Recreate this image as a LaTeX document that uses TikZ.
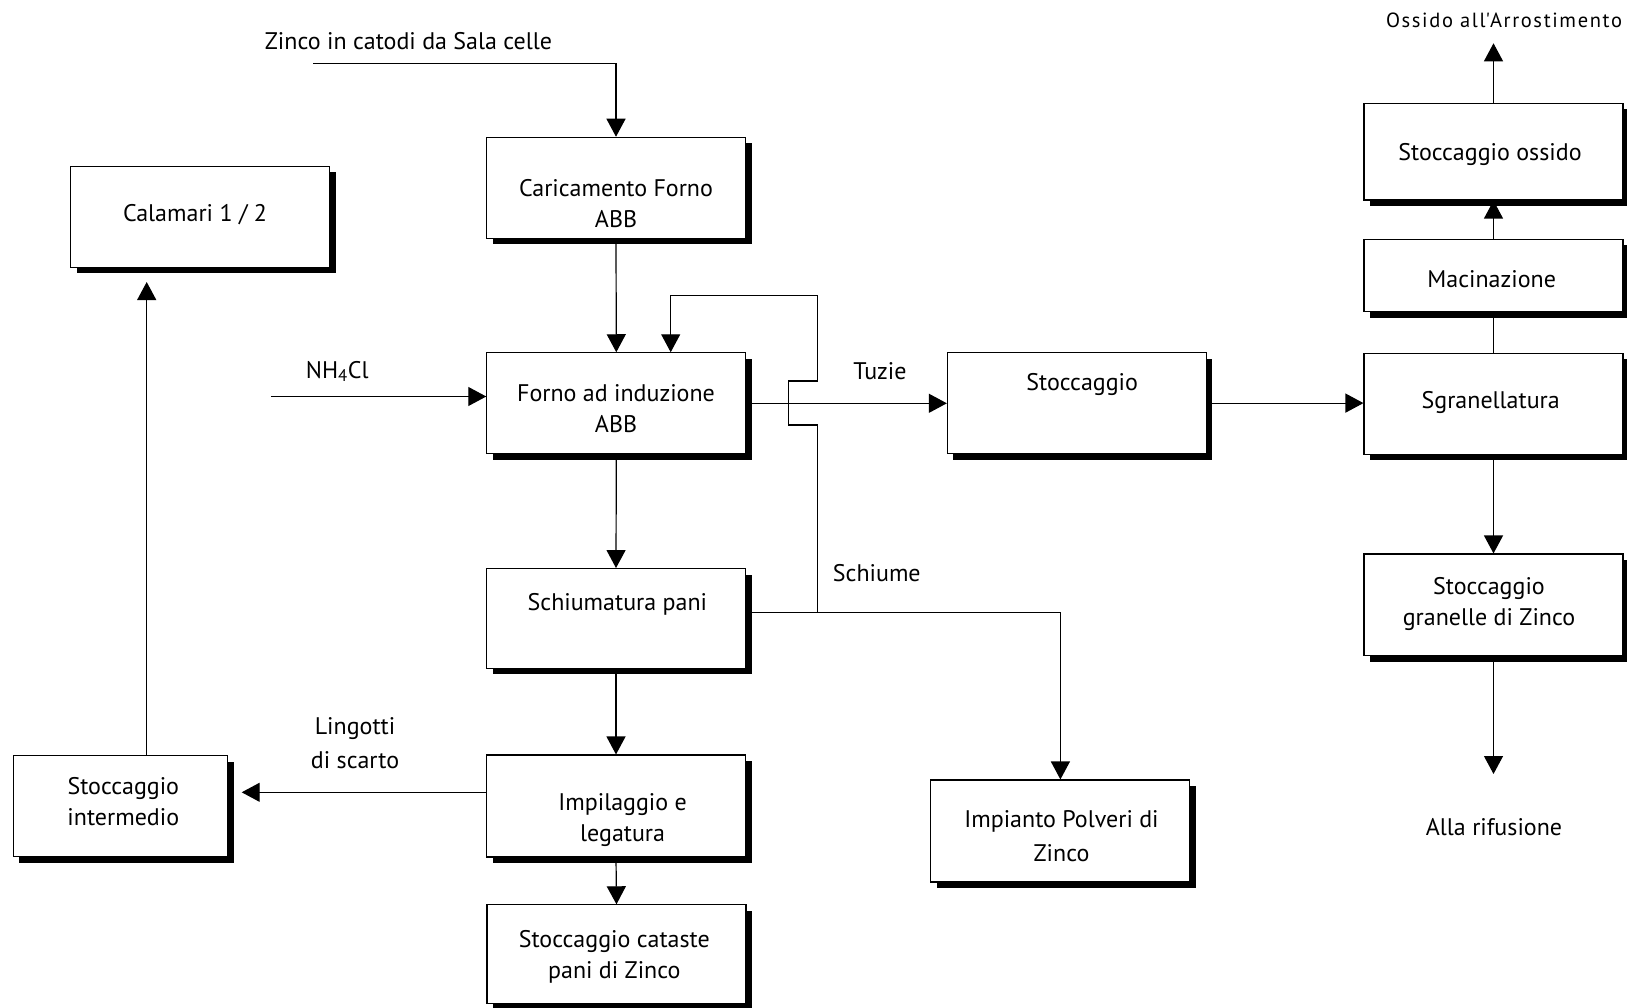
\documentclass[tikz,border=0pt]{standalone}
\usepackage{fontspec}
\setmainfont{PT Sans}
\usetikzlibrary{arrows.meta,shadows}

\begin{document}
\begin{tikzpicture}[x=1pt,y=-1pt,
  box/.style={draw=black, line width=1.1pt, fill=white, inner sep=0pt,
    minimum width=259pt, minimum height=101pt,
    drop shadow={shadow xshift=6pt, shadow yshift=-6pt, opacity=1, fill=black}},
  txt/.style={align=center, inner sep=0pt, font=\fontsize{24}{31}\selectfont},
  small/.style={align=center, inner sep=0pt, font=\fontsize{20.5}{22}\selectfont\addfontfeature{LetterSpace=8}},
  flow/.style={line width=1.2pt, -{Triangle[length=18pt,width=19pt]}},
  plain/.style={line width=1.2pt}]

\useasboundingbox[fill=white] (0,0) rectangle (1627,1008);

% process boxes
\node[box] (caric) at (616,187.8) {};
\node[box] (calam) at (200.3,216.9) {};
\node[box] (forno) at (616.3,403.3) {};
\node[box, minimum height=99.6pt] (schiu) at (616,618.4) {};
\node[box, minimum height=102pt] (impil) at (616,806) {};
\node[box, minimum height=98.3pt] (catas) at (616.5,954) {};
\node[box, minimum width=214.4pt] (inter) at (120.5,806.2) {};
\node[box] (stocc) at (1076.9,403.1) {};
\node[box, minimum height=102pt] (impia) at (1060.4,831) {};
\node[box] (sgran) at (1493.5,403.7) {};
\node[box, minimum height=72.4pt] (macin) at (1493.5,275.5) {};
\node[box, minimum height=96.7pt] (ossid) at (1493.5,151.7) {};
\node[box, minimum height=101.8pt] (granl) at (1493.5,604.9) {};

% box texts
\node[txt] (tcaric) at (616,203.4) {Caricamento Forno\\ABB};
\node[txt] (tcalam) at (195,214.8) {Calamari 1 / 2};
\node[txt] (tforno) at (616,408.8) {Forno ad induzione\\ABB};
\node[txt] (tschiu) at (617.4,604) {Schiumatura pani};
\node[txt] (timpil) at (622.6,819.7) {Impilaggio e\\legatura};
\node[txt] (tcatas) at (614.3,956.8) {Stoccaggio cataste\\pani di Zinco};
\node[txt] (tinter) at (123.3,801.7) {Stoccaggio\\intermedio};
\node[txt] (tstocc) at (1082.2,384) {Stoccaggio};
\node[txt, font=\fontsize{24}{34}\selectfont] (timpia) at (1061.5,835.8) {Impianto Polveri di\\Zinco};
\node[txt] (tsgran) at (1490.7,402) {Sgranellatura};
\node[txt] (tmacin) at (1491.7,279.3) {Macinazione};
\node[txt] (tossid) at (1490,155) {Stoccaggio ossido};
\node[txt] (tgranl) at (1489,603.9) {Stoccaggio\\granelle di Zinco};

% flow labels
\node[txt] (lzinco) at (408.5,41.5) {Zinco in catodi da Sala celle};
\node[txt] (lnh) at (337.2,371.5) {NH\textsubscript{4}Cl};
\node[txt] (ltuzie) at (880,371.5) {Tuzie};
\node[txt] (lschiume) at (876.8,572.8) {Schiume};
\node[txt, font=\fontsize{24}{34}\selectfont] (lling) at (355,743) {Lingotti\\di scarto};
\node[small] (lox) at (1504,20) {Ossido all\textquotesingle Arrostimento};
\node[txt] (lrif) at (1494,827) {Alla rifusione};

% free ends and bends of the connectors
\coordinate (zsrc) at (313.4,63.3);
\coordinate (nhsrc) at (270.8,396.5);
\coordinate (sj) at (817.7,612.3);
\coordinate (j1) at (817.7,425);
\coordinate (j2) at (788.7,425);
\coordinate (j3) at (788.7,381);
\coordinate (j4) at (817.7,381);
\coordinate (j5) at (817.7,295.3);
\coordinate (j6) at (670.7,295.3);
\coordinate (intarr) at (241.7,792.3);
\coordinate (calarr) at (146.7,282);
\coordinate (oxout) at (1493.5,43.3);
\coordinate (rifout) at (1493.5,774);

% connectors
\draw[flow] (zsrc) -| (caric.north);
\draw[flow] (caric.south) -- (forno.north);
\draw[flow] (nhsrc) -- (forno.west |- nhsrc);
\draw[flow] (forno.east) -- (stocc.west |- forno.east);
\draw[flow] (forno.south) -- (schiu.north);
\draw[flow] (schiu.east |- sj) -| (impia.north);
\draw[flow] (sj) -- (j1) -- (j2) -- (j3) -- (j4) -- (j5) -- (j6) -- (j6 |- forno.north);
\draw[flow] (schiu.south) -- (impil.north);
\draw[flow] (impil.west |- intarr) -- (intarr);
\draw[flow] (calarr |- inter.north) -- (calarr);
\draw[flow] (impil.south) -- (catas.north);
\draw[flow] (stocc.east) -- (stocc.east -| sgran.west);
\draw[plain] (sgran.north) -- (macin.south);
\draw[flow] (macin.north) -- (ossid.south);
\draw[flow] (ossid.north) -- (oxout);
\draw[flow] (sgran.south) -- (granl.north);
\draw[flow] (granl.south) -- (rifout);
\end{tikzpicture}
\end{document}
